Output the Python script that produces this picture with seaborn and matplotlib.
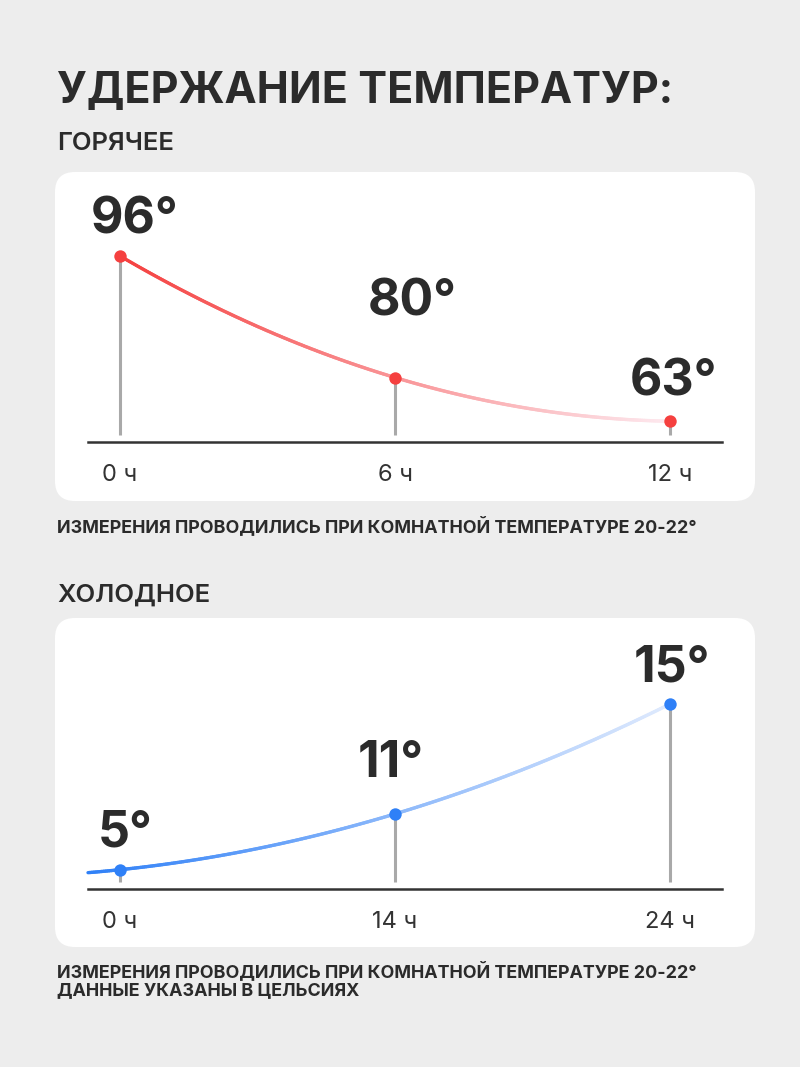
import numpy as np
import matplotlib.pyplot as plt
from matplotlib.collections import LineCollection
from matplotlib.patches import FancyBboxPatch
from matplotlib.colors import to_rgba
import seaborn as sns

# the data
hot_ticks = ['0 ч', '6 ч', '12 ч']
hot_temps = [96, 80, 63]
cold_ticks = ['0 ч', '14 ч', '24 ч']
cold_temps = [5, 11, 15]

title = 'УДЕРЖАНИЕ ТЕМПЕРАТУР:'
hot_name = 'ГОРЯЧЕЕ'
cold_name = 'ХОЛОДНОЕ'
note = 'ИЗМЕРЕНИЯ ПРОВОДИЛИСЬ ПРИ КОМНАТНОЙ ТЕМПЕРАТУРЕ 20-22°'
note2 = 'ДАННЫЕ УКАЗАНЫ В ЦЕЛЬСИЯХ'

sns.set_theme(style='white')
plt.rcParams['font.family'] = ['Inter', 'DejaVu Sans']

W, H = 800, 1067
dark = '#2b2b2b'
red = '#f5403f'
blue = '#2f80f7'

fig = plt.figure(figsize=(W / 100, H / 100), dpi=100)
fig.patch.set_facecolor('#ededed')

# background layer in pixel units: cards and free text
bg = fig.add_axes([0, 0, 1, 1])
bg.set_xlim(0, W)
bg.set_ylim(H, 0)
bg.axis('off')
for top, bottom in [(172, 501), (618, 947)]:
    bg.add_patch(FancyBboxPatch((55, top), 700, bottom - top,
                                boxstyle='round,pad=0,rounding_size=20',
                                fc='white', ec='none'))

bg.text(57, 103, title, fontsize=31, weight='bold', color=dark)
bg.text(57, 150, hot_name, fontsize=18.5, weight='semibold', color=dark)
bg.text(57, 532, note, fontsize=12.9, weight='bold', color=dark)
bg.text(57, 602, cold_name, fontsize=18.5, weight='semibold', color=dark)
bg.text(57, 977, note, fontsize=12.9, weight='bold', color=dark)
bg.text(57, 995, note2, fontsize=12.9, weight='bold', color=dark)


def panel(axis_y, top_y, temps, ticks, k, low, color, fade, offsets, t0):
    ax = fig.add_axes([88 / W, (H - axis_y) / H, (722 - 88) / W, (axis_y - top_y) / H])
    ax.patch.set_alpha(0)
    fwd = lambda v: np.exp(k * np.asarray(v, dtype=float))
    inv = lambda f: np.log(np.asarray(f, dtype=float)) / k
    ax.set_yscale('function', functions=(fwd, inv))
    x = np.arange(len(temps))

    # smooth curve through the points, fading to the right
    coef = np.polyfit(x, fwd(temps), 2)
    t = np.linspace(t0, x[-1], 300)
    yy = inv(np.polyval(coef, t))
    pts = np.column_stack([t, yy]).reshape(-1, 1, 2)
    segs = np.concatenate([pts[:-1], pts[1:]], axis=1)
    s = np.linspace(0, 1, len(segs))[:, None]
    cols = (1 - s) * np.array(to_rgba(color)) + s * np.array(to_rgba(fade))
    ax.add_collection(LineCollection(segs, colors=cols, linewidths=2.4,
                                     capstyle='round', zorder=2, clip_on=False))

    # stems stop a little above the axis line
    hpx = axis_y - top_y
    base = inv(fwd(low) + 7 / hpx * (fwd(max(temps)) - fwd(low)))
    ax.vlines(x, base, temps, color='#a9a9a9', lw=2.2, zorder=1)

    sns.scatterplot(x=x, y=temps, ax=ax, color=color, s=80, linewidth=0,
                    zorder=3, clip_on=False)

    for xi, v, (dx, dy) in zip(x, temps, offsets):
        ax.annotate(f'{v}°', (xi, v), xytext=(dx, dy), textcoords='offset pixels',
                    ha='center', va='baseline', fontsize=36, weight='bold',
                    color=dark, annotation_clip=False)

    ax.set_xlim(-32 / 275, 2 + 52 / 275)
    ax.set_ylim(low, max(temps))
    ax.set(xlabel='', ylabel='')
    ax.set_yticks([])
    ax.set_xticks(x, ticks)
    ax.tick_params(axis='x', length=0, pad=16, labelsize=17, labelcolor='#333333')
    sns.despine(ax=ax, left=True)
    ax.spines['bottom'].set_color('#333333')
    ax.spines['bottom'].set_linewidth(1.8)
    return ax


panel(442, 256, hot_temps, hot_ticks, 0.066, 0, red, '#fde9ef',
      [(15, 22), (17, 62), (3, 26)], 0)
panel(889, 704, cold_temps, cold_ticks, 0.225, -15, blue, '#dfeafd',
      [(5, 23), (-4, 37), (2, 22)], -32 / 275)

plt.savefig('out.png', dpi=100, facecolor=fig.get_facecolor())
